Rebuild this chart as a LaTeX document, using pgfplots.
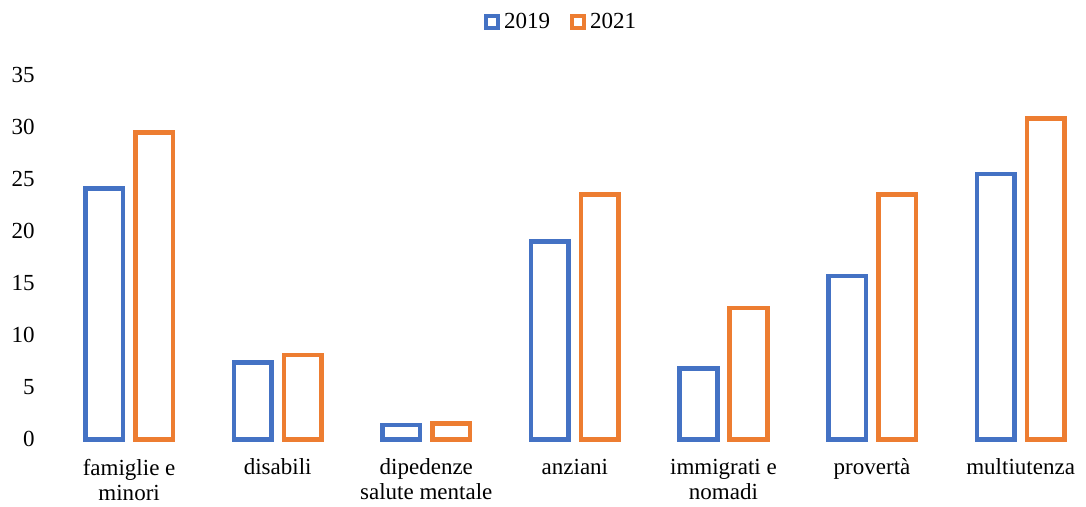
\documentclass[border=0pt]{standalone}
\usepackage{fontspec}
\setmainfont{Liberation Serif}
\usepackage{pgfplots}
\pgfplotsset{compat=1.18}
\definecolor{cblue}{HTML}{4472C4}
\definecolor{corange}{HTML}{ED7D31}
\begin{document}
\begin{tikzpicture}
\useasboundingbox (-27.4pt,-33.5pt) rectangle (515.3pt,219.5pt);
\begin{axis}[
  at={(0pt,0pt)}, anchor=south west,
  scale only axis, width=515.3pt, height=182pt,
  xmin=-0.5, xmax=6.44, ymin=0, ymax=35,
  clip=false,
  axis line style={draw=none}, tick style={draw=none},
  ybar, bar width=18.75pt,
  ytick={0,5,...,35},
  xtick={0,1,2,3,4,5,6},
  xticklabels={famiglie e\\minori, disabili, dipedenze\\salute mentale, anziani, immigrati e\\nomadi, provertà, multiutenza},
  xticklabel style={align=center, font=\fontsize{11.5}{12.5}\selectfont, yshift=-2pt},
  yticklabel style={font=\fontsize{11.5}{12}\selectfont, xshift=-6.5pt},
  /pgf/number format/assume math mode=true,
  legend style={at={(0.492,1.146)}, anchor=center, draw=none, fill=none,
    legend columns=-1, font=\fontsize{11.5}{12}\selectfont,
    /tikz/every even column/.append style={column sep=8pt},
    inner sep=0pt},
  legend image code/.code={\draw[#1, line width=2pt, fill=white] (0pt,-3pt) rectangle (6pt,3pt);},
]
\addplot[draw=cblue, line width=2.3pt, fill=white, bar shift=-12.5pt] table[x=x, y=a] {
x a
0 24.1
1 7.4
2 1.35
3 19.0
4 6.8
5 15.7
6 25.5
};
\addplot[draw=corange, line width=2.3pt, fill=white, bar shift=12.5pt] table[x=x, y=b] {
x b
0 29.5
1 8.1
2 1.5
3 23.5
4 12.6
5 23.5
6 30.8
};
\legend{2019, 2021}
\end{axis}
\end{tikzpicture}
\end{document}
